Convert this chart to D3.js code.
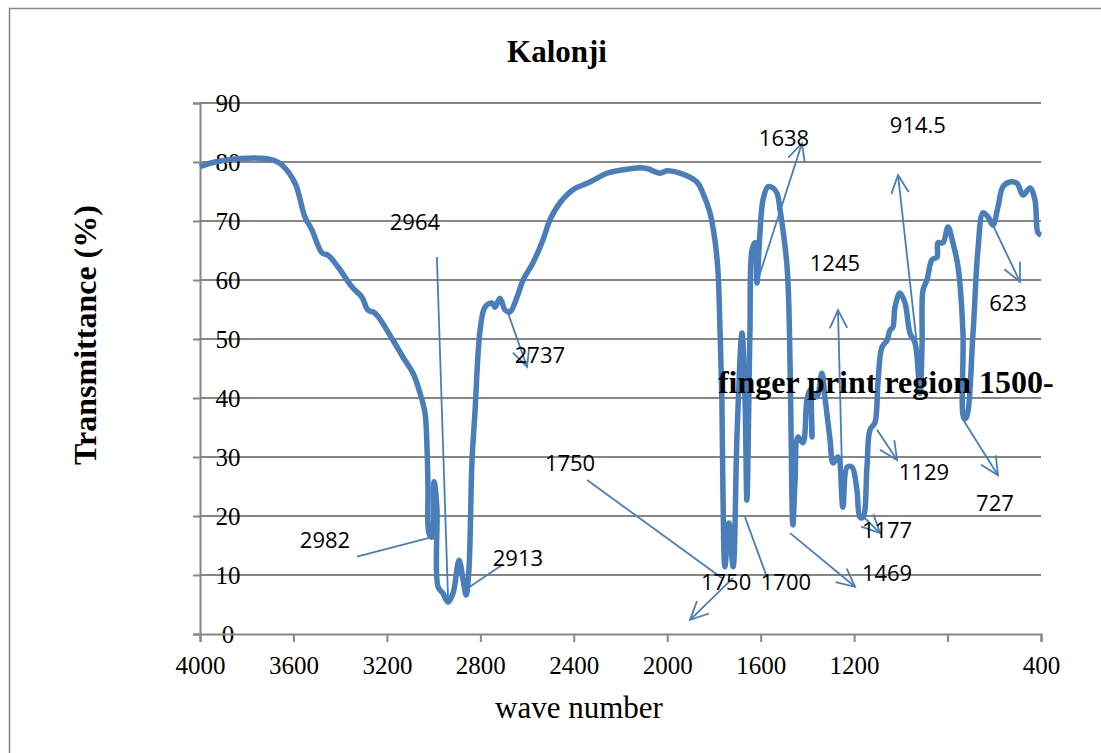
<html>
<head>
<meta charset="utf-8">
<title>Kalonji</title>
<style>
  body { margin: 0; background: #fff; }
</style>
</head>
<body>
<script src="https://cdn.jsdelivr.net/npm/d3@7"></script>
<script>
var width = 1101;
var height = 753;

// spectrum
var waveNumber = [4000, 3936, 3829, 3722, 3679, 3649, 3593, 3551, 3521, 3478, 3452, 3409, 3349, 3307, 3281, 3251,
  3174, 3131, 3088, 3058, 3037, 3028, 3024, 3020, 3007, 2998, 2986, 2981, 2960, 2938, 2917, 2891, 2874, 2861, 2849,
  2836, 2823, 2801, 2780, 2750, 2737, 2716, 2694, 2673, 2643, 2617, 2575, 2532, 2502, 2459, 2403, 2331, 2258, 2202,
  2129, 2087, 2031, 2001, 1945, 1873, 1847, 1817, 1796, 1783, 1774, 1766, 1761, 1753, 1736, 1718, 1701, 1680, 1667,
  1659, 1646, 1637, 1624, 1616, 1603, 1590, 1569, 1547, 1530, 1517, 1487, 1474, 1466, 1462, 1453, 1440, 1419, 1402,
  1389, 1380, 1376, 1359, 1338, 1325, 1303, 1290, 1269, 1248, 1230, 1209, 1188, 1175, 1162, 1145, 1132, 1111, 1098,
  1081, 1059, 1046, 1034, 1025, 1004, 982, 961, 939, 918, 909, 905, 888, 867, 845, 841, 820, 798, 777, 755, 734, 730,
  721, 691, 670, 648, 627, 606, 584, 563, 533, 503, 477, 447, 426, 413, 400];
var transmittance = [79.2, 80.0, 80.6, 80.6, 80.2, 79.5, 76.4, 70.7, 68.5, 64.6, 64.2, 62.2, 58.8, 57.1, 54.9, 54.4,
  49.8, 46.9, 44.2, 40.8, 37.5, 31.2, 24.9, 17.1, 16.4, 25.8, 21.5, 8.0, 6.9, 5.4, 6.9, 12.5, 9.2, 6.6, 10.8,
  29.0, 37.5, 51.5, 55.4, 56.1, 55.4, 56.9, 54.9, 54.6, 57.1, 60.0, 62.9, 66.8, 70.2, 73.1, 75.3, 76.6, 78.1, 78.6,
  79.0, 78.9, 78.1, 78.5, 78.1, 76.6, 74.7, 71.4, 66.8, 61.7, 51.5, 39.7, 22.7, 11.4, 18.8, 11.4, 34.1, 51.0, 39.7,
  22.7, 51.0, 65.1, 66.3, 59.5, 68.0, 73.6, 75.8, 75.6, 74.7, 71.9, 62.2, 45.3, 22.7, 18.5, 25.6, 33.4, 32.4, 39.7,
  41.4, 33.4, 40.8, 40.2, 44.2, 40.2, 32.9, 29.0, 30.0, 21.5, 28.3, 28.3, 24.4, 19.8, 19.8, 28.3, 34.6, 35.8, 42.5,
  48.6, 49.8, 51.5, 52.0, 55.4, 57.8, 56.1, 51.0, 49.3, 40.8, 49.3, 58.3, 60.0, 63.4, 63.9, 66.3, 66.3, 69.0, 66.3, 62.2, 51.0, 36.6,
  36.6, 51.0, 65.1, 71.4, 70.7, 69.3, 72.4, 75.8, 76.6, 76.4, 74.4, 75.6, 73.6, 68.0, 67.6];

var xTicks = [4000, 3600, 3200, 2800, 2400, 2000, 1600, 1200, 800, 400];
var xTickLabels = ["4000", "3600", "3200", "2800", "2400", "2000", "1600", "1200", "", "400"];
var yTicks = [0, 10, 20, 30, 40, 50, 60, 70, 80, 90];

// peak labels: text, label position, leader line from/to, arrowhead at the end
var noteText = ["2964", "2982", "2913", "2737", "1750", "1750", "1700", "1638", "1245", "914.5", "623", "1129", "727", "1177", "1469"];
var noteX = [3080, 3465, 2639, 2545, 2416, 1748, 1492, 1500, 1282, 927, 541, 901, 597, 1059, 1059];
var noteY = [69.8, 15.9, 12.9, 47.3, 29.0, 8.8, 8.8, 84.1, 62.9, 86.3, 56.1, 27.5, 22.2, 17.6, 10.3];
var lineFrom = [[2986, 63.9], [3328, 13.1], [2853, 7.8], [2686, 54.9], [2343, 26.1], [1718, 9.5], [1667, 19.8],
  [1616, 59.5], [1248, 21.9], [931, 49.0], [606, 69.3], [1102, 34.6], [738, 36.6], [1175, 20.5], [1474, 17.1]];
var lineTo = [[2938, 5.8], [3007, 16.4], [2707, 11.7], [2600, 45.3], [1766, 9.5], [1902, 2.4], [1569, 9.2],
  [1423, 83.2], [1269, 54.9], [1012, 77.8], [490, 59.7], [1016, 29.5], [584, 26.9], [1089, 17.1], [1196, 8.0]];
var hasArrow = [false, false, false, true, false, true, false, true, true, true, true, true, true, true, true];

var blue = "#4a7ebb";
var grey = "#868686";
var serif = "'Liberation Serif', 'Times New Roman', serif";

var svg = d3.select("body").append("svg")
  .attr("width", width)
  .attr("height", height);

// outer chart border (runs off the right and bottom edges)
svg.append("rect")
  .attr("x", 9.5).attr("y", 8.5)
  .attr("width", 1200).attr("height", 900)
  .attr("fill", "none")
  .attr("stroke", grey)
  .attr("stroke-width", 1.5);

var x = d3.scaleLinear().domain([4000, 400]).range([200, 1041]);
var y = d3.scaleLinear().domain([0, 90]).range([634, 103]);

// grid
svg.append("g").selectAll("line")
  .data(yTicks.slice(1))
  .enter().append("line")
  .attr("x1", x(4000)).attr("x2", x(400))
  .attr("y1", function(d) { return y(d); })
  .attr("y2", function(d) { return y(d); })
  .attr("stroke", grey)
  .attr("stroke-width", 2);

// y axis
var yAxis = svg.append("g").attr("transform", "translate(" + x(4000) + ",0)")
  .call(d3.axisLeft(y).tickValues(yTicks).tickSize(7).tickFormat(d3.format("d")));
yAxis.select(".domain").attr("stroke", grey).attr("stroke-width", 2);
yAxis.selectAll(".tick line").attr("stroke", grey).attr("stroke-width", 2);
yAxis.selectAll(".tick text")
  .attr("x", 28)
  .attr("text-anchor", "middle")
  .attr("font-family", serif)
  .attr("font-size", 25)
  .attr("fill", "#000");

// x axis
var xAxis = svg.append("g").attr("transform", "translate(0," + y(0) + ")")
  .call(d3.axisBottom(x).tickValues(xTicks).tickSize(8)
    .tickFormat(function(d, i) { return xTickLabels[i]; }));
xAxis.select(".domain").attr("stroke", grey).attr("stroke-width", 2);
xAxis.selectAll(".tick line").attr("stroke", grey).attr("stroke-width", 2);
xAxis.selectAll(".tick text")
  .attr("y", 22)
  .attr("dy", "0.71em")
  .attr("font-family", serif)
  .attr("font-size", 25)
  .attr("fill", "#000");

// spectrum
var points = waveNumber.map(function(d, i) { return [d, transmittance[i]]; });
var line = d3.line()
  .x(function(d) { return x(d[0]); })
  .y(function(d) { return y(d[1]); })
  .curve(d3.curveCatmullRom.alpha(0.5));
svg.append("path")
  .datum(points)
  .attr("d", line)
  .attr("fill", "none")
  .attr("stroke", blue)
  .attr("stroke-width", 5.5)
  .attr("stroke-linejoin", "round");

// leader lines and arrows
var notes = svg.append("g");
noteText.forEach(function(t, i) {
  var x1 = x(lineFrom[i][0]), y1 = y(lineFrom[i][1]);
  var x2 = x(lineTo[i][0]), y2 = y(lineTo[i][1]);
  notes.append("line")
    .attr("x1", x1).attr("y1", y1).attr("x2", x2).attr("y2", y2)
    .attr("stroke", blue).attr("stroke-width", 1.8);
  if (hasArrow[i]) {
    var a = Math.atan2(y1 - y2, x1 - x2);
    var len = 20, spread = 0.45;
    var p = "M" + (x2 + len * Math.cos(a + spread)) + "," + (y2 + len * Math.sin(a + spread)) +
      "L" + x2 + "," + y2 +
      "L" + (x2 + len * Math.cos(a - spread)) + "," + (y2 + len * Math.sin(a - spread));
    notes.append("path").attr("d", p)
      .attr("fill", "none").attr("stroke", blue).attr("stroke-width", 1.8);
  }
});

svg.append("g").selectAll("text")
  .data(noteText)
  .enter().append("text")
  .attr("x", function(d, i) { return x(noteX[i]); })
  .attr("y", function(d, i) { return y(noteY[i]); })
  .attr("dy", "0.36em")
  .attr("text-anchor", "middle")
  .attr("font-family", "'Open Sans', sans-serif")
  .attr("font-size", 22)
  .attr("fill", "#000")
  .text(function(d) { return d; });

svg.append("text")
  .attr("x", x(1783)).attr("y", y(42.7))
  .attr("dy", "0.34em")
  .attr("font-family", serif)
  .attr("font-weight", "bold")
  .attr("font-size", 32)
  .text("finger print region 1500-");

// titles
svg.append("text")
  .attr("x", 557).attr("y", 62)
  .attr("text-anchor", "middle")
  .attr("font-family", serif)
  .attr("font-weight", "bold")
  .attr("font-size", 31)
  .text("Kalonji");

svg.append("text")
  .attr("transform", "translate(96,335) rotate(-90)")
  .attr("text-anchor", "middle")
  .attr("font-family", serif)
  .attr("font-weight", "bold")
  .attr("font-size", 32)
  .text("Transmittance (%)");

svg.append("text")
  .attr("x", 579).attr("y", 718)
  .attr("text-anchor", "middle")
  .attr("font-family", serif)
  .attr("font-size", 31)
  .text("wave number");
</script>
</body>
</html>
